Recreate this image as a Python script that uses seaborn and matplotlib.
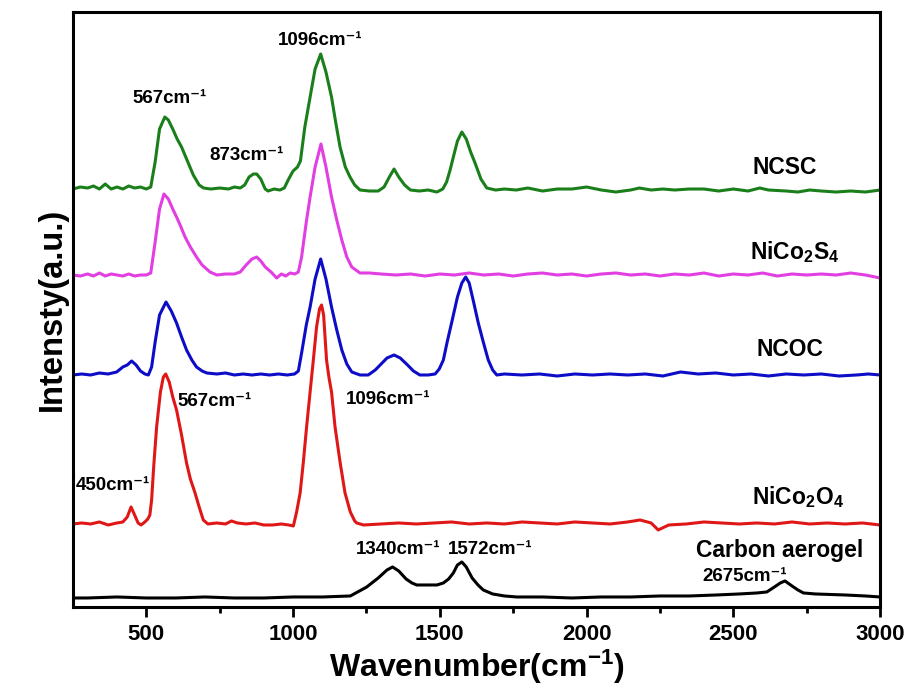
import matplotlib
matplotlib.use("Agg")
import matplotlib.pyplot as plt
import seaborn as sns
import pandas as pd

# ---------------- data ----------------
ncsc_x = [250, 275, 300, 320, 340, 360, 380, 400, 420, 440, 460, 480, 500, 515, 530, 545, 563, 575, 590, 605,
          620, 640, 660, 680, 695, 720, 750, 780, 800, 820, 835, 850, 865, 876, 890, 905, 915, 935, 955, 970,
          985, 1000, 1015, 1025, 1040, 1058, 1075, 1094, 1112, 1131, 1145, 1160, 1178, 1194, 1210, 1228, 1260,
          1290, 1310, 1328, 1344, 1360, 1380, 1400, 1430, 1460, 1490, 1510, 1523, 1535, 1546, 1560, 1575, 1590,
          1605, 1620, 1640, 1660, 1690, 1720, 1760, 1800, 1850, 1900, 1950, 2000, 2050, 2100, 2150, 2180, 2220,
          2260, 2300, 2350, 2400, 2450, 2500, 2550, 2590, 2620, 2680, 2720, 2760, 2800, 2850, 2900, 2950, 3000]
ncsc_y = [418, 420, 419, 421, 418, 423, 418, 420, 418, 421, 419, 420, 418, 420, 445, 478, 490, 487, 478, 468,
          460, 446, 432, 422, 419, 418, 419, 418, 420, 419, 422, 430, 433, 433, 428, 418, 416, 418, 417, 419,
          428, 436, 440, 446, 480, 510, 538, 553, 535, 510, 485, 460, 440, 430, 422, 417, 416,
          416, 420, 430, 438, 430, 422, 417, 416, 417, 415, 418, 425, 437, 450, 466, 475, 468,
          455, 444, 428, 419, 417, 418, 417, 419, 416, 418, 418, 420, 417, 415, 417, 419, 417,
          418, 417, 418, 418, 416, 418, 416, 419, 417, 416, 415, 417, 416, 415, 416, 415, 417]

nics_x = [250, 275, 300, 320, 340, 360, 380, 400, 420, 440, 460, 480, 500, 515, 530, 545, 560, 575, 590, 603,
          618, 632, 650, 671, 690, 717, 740, 770, 800, 820, 840, 860, 876, 890, 905, 925, 944, 960, 975, 990,
          1006, 1018, 1029, 1045, 1058, 1075, 1095, 1112, 1131, 1148, 1166, 1183, 1200, 1228, 1260, 1300, 1350,
          1400, 1450, 1500, 1550, 1600, 1650, 1700, 1750, 1800, 1850, 1900, 1950, 2000, 2050, 2100, 2150, 2200,
          2250, 2300, 2350, 2400, 2450, 2500, 2550, 2600, 2650, 2700, 2750, 2800, 2850, 2900, 2950, 3000]
nics_y = [332, 331, 333, 331, 334, 331, 333, 332, 331, 333, 331, 332, 332, 334, 365, 398, 413, 408, 398, 390,
          380, 370, 360, 350, 342, 335, 332, 333, 333, 335, 342, 348, 350, 346, 340, 335, 329, 333, 331, 334,
          333, 335, 350, 385, 410, 440, 463, 440, 410, 388, 367, 350, 340, 334, 334, 333, 332,
          333, 331, 333, 332, 334, 332, 333, 331, 333, 334, 332, 333, 331, 333, 334, 332, 333,
          331, 333, 332, 334, 331, 333, 332, 334, 331, 333, 332, 333, 332, 334, 332, 329]

ncoc_x = [250, 280, 310, 340, 370, 399, 420, 435, 450, 465, 480, 495, 507, 518, 530, 545, 567, 585, 603, 620,
          637, 655, 671, 690, 706, 740, 770, 800, 830, 860, 890, 920, 950, 980, 1005, 1018, 1029, 1045, 1058,
          1075, 1094, 1112, 1131, 1148, 1166, 1183, 1200, 1228, 1256, 1280, 1300, 1320, 1344, 1365, 1390, 1410,
          1432, 1460, 1484, 1498, 1512, 1525, 1540, 1560, 1575, 1588, 1600, 1615, 1631, 1648, 1665, 1680, 1694,
          1720, 1780, 1840, 1900, 1960, 2020, 2080, 2140, 2200, 2260, 2320, 2380, 2440, 2500, 2560, 2620, 2680,
          2740, 2800, 2860, 2920, 2960, 3000]
ncoc_y = [232, 233, 232, 234, 233, 235, 240, 242, 246, 242, 236, 233, 232, 240, 265, 292, 305, 296, 284, 270,
          257, 247, 240, 236, 234, 233, 234, 232, 233, 232, 233, 232, 233, 232, 233, 236, 254, 282, 300,
          328, 348, 328, 300, 278, 257, 243, 235, 232, 232, 237, 243, 249, 252, 249, 242, 236,
          232, 232, 233, 238, 247, 265, 284, 310, 324, 330, 324, 305, 284, 265, 247, 237, 232,
          233, 232, 233, 231, 233, 232, 233, 232, 233, 231, 235, 233, 234, 232, 233, 231, 233,
          232, 233, 231, 232, 233, 232]

nico_x = [250, 280, 310, 340, 370, 400, 420, 435, 448, 460, 472, 482, 495, 505, 512, 518, 525, 535, 548, 558,
          566, 578, 590, 603, 620, 637, 650, 666, 680, 694, 710, 740, 770, 790, 810, 840, 870, 900, 930, 960,
          985, 1001, 1012, 1024, 1035, 1046, 1058, 1069, 1080, 1090, 1097, 1104, 1114, 1122, 1131, 1143, 1160,
          1177, 1195, 1210, 1217, 1240, 1300, 1360, 1420, 1480, 1540, 1600, 1660, 1720, 1780, 1840, 1900, 1960,
          2020, 2080, 2140, 2182, 2220, 2244, 2280, 2340, 2400, 2460, 2520, 2580, 2640, 2700, 2760, 2820, 2880,
          2940, 3000]
nico_y = [83, 84, 83, 85, 82, 84, 85, 90, 100, 92, 84, 82, 85, 88, 92, 107, 140, 180, 215, 230,
          233, 225, 210, 197, 172, 144, 128, 114, 100, 87, 83, 84, 83, 86, 84, 83, 84, 82, 82, 83,
          82, 81, 95, 114, 145, 180, 215, 247, 280, 298, 302, 292, 247, 230, 215, 180, 145,
          114, 95, 86, 84, 82, 83, 84, 83, 84, 85, 83, 84, 83, 85, 84, 83, 85,
          84, 83, 85, 87, 84, 77, 82, 83, 85, 84, 83, 84, 83, 85, 83, 84, 83,
          84, 82]

carb_x = [250, 300, 400, 500, 600, 700, 800, 900, 1000, 1100, 1195, 1220, 1251, 1290, 1320, 1339, 1360, 1385,
          1405, 1421, 1460, 1490, 1512, 1530, 1546, 1560, 1575, 1590, 1610, 1630, 1648, 1680, 1720, 1762, 1850,
          1950, 2050, 2150, 2250, 2350, 2443, 2520, 2580, 2614, 2640, 2660, 2676, 2700, 2720, 2739, 2780, 2880,
          2950, 3000]
carb_y = [9, 9, 10, 9, 9, 10, 9, 9, 10, 10, 11, 15, 20, 29, 37, 40, 36, 28,
          24, 22, 22, 22, 24, 28, 34, 42, 45, 40, 29, 22, 17, 13, 11, 10, 10,
          9, 10, 10, 11, 11, 12, 13, 14, 15, 20, 24, 26, 21, 17, 14, 13, 12,
          11, 10]

series_names = ["NCSC", "NiCo2S4", "NCOC", "NiCo2O4", "Carbon aerogel"]
series_x = [ncsc_x, nics_x, ncoc_x, nico_x, carb_x]
series_y = [ncsc_y, nics_y, ncoc_y, nico_y, carb_y]
colors = ["#1a7f1a", "#e23fe2", "#0d0dc8", "#e01717", "#000000"]

x_ticks = [500, 1000, 1500, 2000, 2500, 3000]

# (text, x, y) annotations
labels_txt = ["NCSC", "NiCo$_2$S$_4$", "NCOC", "NiCo$_2$O$_4$", "Carbon aerogel"]
labels_x = [2676, 2710, 2693, 2720, 2659]
labels_y = [440, 355, 257, 110, 56]

peak_txt = ["567cm⁻¹", "873cm⁻¹", "1096cm⁻¹", "567cm⁻¹", "1096cm⁻¹",
            "450cm⁻¹", "1340cm⁻¹", "1572cm⁻¹", "2675cm⁻¹"]
peak_x = [580, 843, 1092, 734, 1323, 386, 1358, 1671, 2540]
peak_y = [509, 452, 567, 205, 207, 121, 57, 57, 30]

# ---------------- plotting ----------------
sns.set_style("ticks")
plt.rcParams["font.family"] = ["Liberation Sans", "DejaVu Sans"]
plt.rcParams["font.weight"] = "bold"
plt.rcParams["mathtext.default"] = "regular"
plt.rcParams["text.color"] = "black"
plt.rcParams["axes.labelcolor"] = "black"
plt.rcParams["xtick.color"] = "black"
plt.rcParams["ytick.color"] = "black"

rows = []
for name, xs, ys in zip(series_names, series_x, series_y):
    for xv, yv in zip(xs, ys):
        rows.append({"sample": name, "wn": xv, "I": yv})
df = pd.DataFrame(rows)

fig = plt.figure(figsize=(9.12, 6.91), dpi=100)
ax = fig.add_axes([0.080, 0.1216, 0.885, 0.861])

sns.lineplot(data=df, x="wn", y="I", hue="sample", hue_order=series_names,
             palette=colors, linewidth=2.2, legend=False, ax=ax, sort=True,
             estimator=None)

ax.set_xlim(250, 3000)
ax.set_ylim(0, 595)
ax.set_xticks(x_ticks)
ax.set_xticks([750, 1250, 1750, 2250, 2750], minor=True)
ax.set_yticks([])
ax.tick_params(axis="x", which="major", direction="out", length=7, width=2,
               labelsize=16, pad=5, top=False, colors="black")
ax.tick_params(axis="x", which="minor", direction="out", length=4, width=2, top=False)
for lab in ax.get_xticklabels():
    lab.set_fontweight("bold")
for sp in ax.spines.values():
    sp.set_linewidth(2.2)
    sp.set_color("black")

ax.set_xlabel("Wavenumber(cm$^{-1}$)", fontsize=23, fontweight="bold", labelpad=2)
ax.set_ylabel("Intensty(a.u.)", fontsize=23.5, fontweight="bold", labelpad=4)

for t, xv, yv in zip(labels_txt, labels_x, labels_y):
    ax.text(xv, yv, t, fontsize=16.5, fontweight="bold", ha="center", va="center")
for t, xv, yv in zip(peak_txt, peak_x, peak_y):
    ax.text(xv, yv, t, fontsize=13.5, fontweight="bold", ha="center", va="center")

fig.savefig("out.png", dpi=100)
